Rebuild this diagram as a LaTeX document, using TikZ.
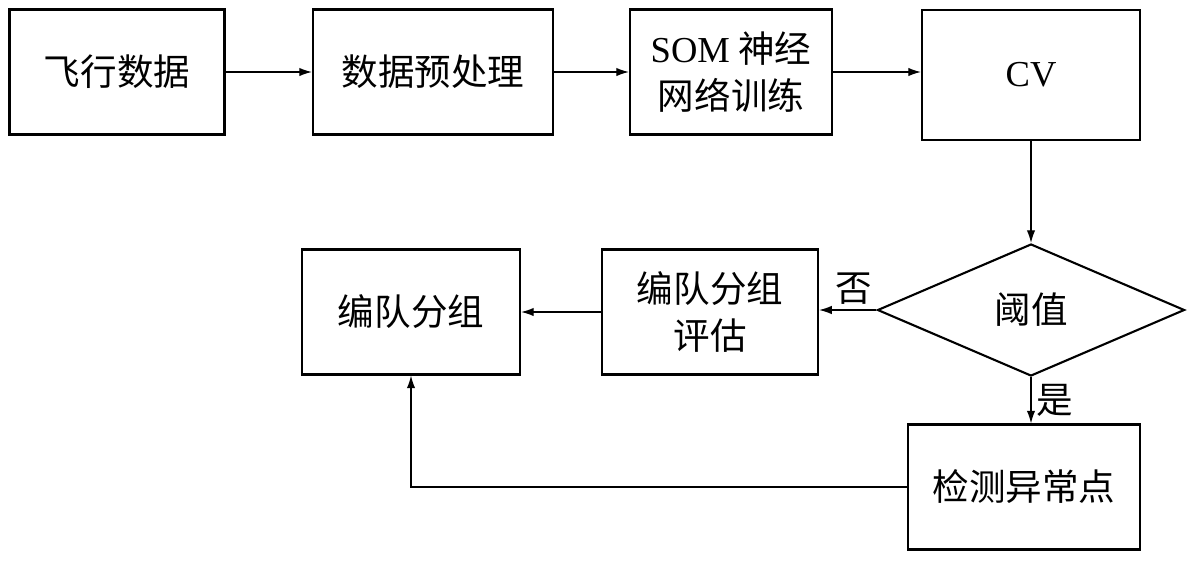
\documentclass[tikz,border=0pt]{standalone}
\usepackage{fontspec}
\setmainfont{Liberation Serif}
\newfontfamily\cjk{Noto Sans CJK SC}
\usetikzlibrary{positioning, arrows.meta, shapes.geometric}
\begin{document}
\begin{tikzpicture}[x=0.025cm, y=-0.025cm,
	box/.style={
		draw, line width=1.5pt,
		rectangle,
		minimum height=3.125cm,
		align=center,
		font=\fontsize{26}{33}\selectfont\cjk
	},
	arr/.style={-{Latex[length=9pt,width=6pt]}, line width=0.9pt}
	]
	\useasboundingbox (0,0) rectangle (1200,560);
	
	% Top row
	\node[box, minimum width=5.375cm] (fly) at (117,72) {飞行数据};
	\node[box, minimum width=6cm] (pre) at (433,72) {数据预处理};
	\node[box, minimum width=5.05cm] (som) at (731,72) {{\rmfamily SOM} 神经\\网络训练};
	\node[box, minimum width=5.45cm, minimum height=3.25cm] (cv) at (1031,75) {\rmfamily CV};
	
	% Decision
	\node[draw, line width=1.5pt, diamond, inner sep=0pt, minimum width=7.675cm, minimum height=3.3cm,
		font=\fontsize{26}{33}\selectfont\cjk] (thr) at (1031,310) {阈值};
	
	% Bottom row
	\node[box, minimum width=5.4cm] (eval) at (710,312) {编队分组\\评估};
	\node[box, minimum width=5.45cm] (group) at (411,312) {编队分组};
	\node[box, minimum width=5.8cm] (det) at (1024,487) {检测异常点};
	
	% Connectors
	\draw[arr] (fly) -- (pre);
	\draw[arr] (pre) -- (som);
	\draw[arr] (som) -- (cv.west |- som);
	\draw[arr] (cv) -- (thr);
	\draw[arr] (thr.west) -- node[above, pos=0.4, font=\fontsize{26}{33}\selectfont\cjk] {否} (eval.east |- thr.west);
	\draw[arr] (thr.south) -- node[right, font=\fontsize{26}{33}\selectfont\cjk] {是} (thr.south |- det.north);
	\draw[arr] (det.west) -| (group.south);
	\draw[arr] (eval) -- (group);
	
\end{tikzpicture}
\end{document}
